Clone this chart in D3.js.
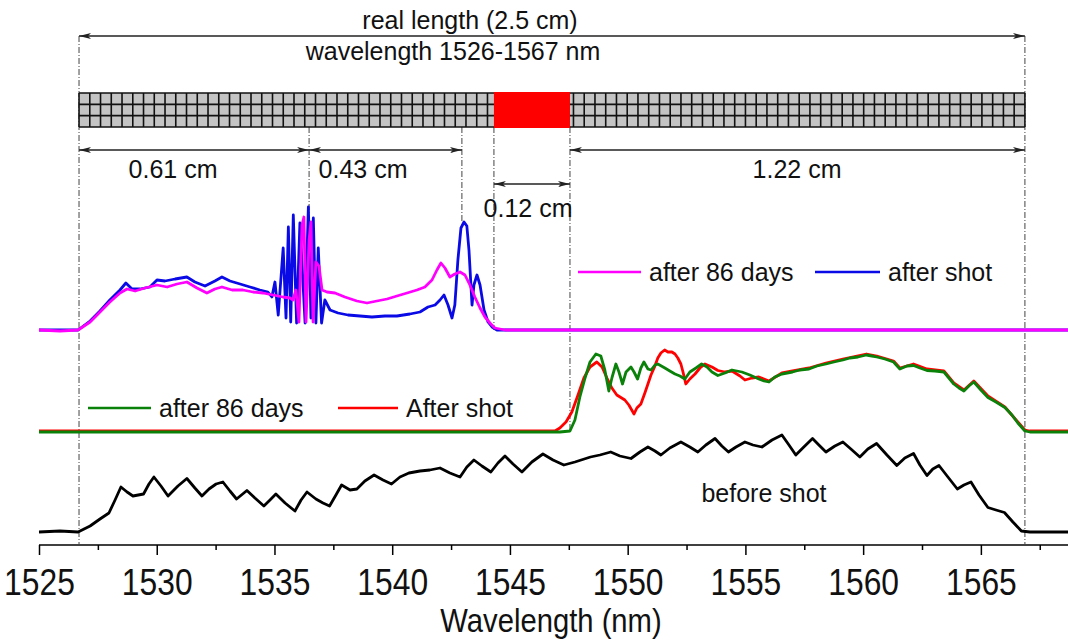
<!DOCTYPE html>
<html><head><meta charset="utf-8">
<script src="https://cdn.jsdelivr.net/npm/d3@7"></script>
<style>
html,body{margin:0;padding:0;background:#fff;}
svg{display:block;}
text{font-family:"Liberation Sans",Arial,sans-serif;fill:#111;}
</style></head>
<body><svg id="chart" width="1068" height="643"></svg>
<script>
// ---------------- DATA ----------------
const xTicksMajor = [1525,1530,1535,1540,1545,1550,1555,1560,1565];
const xTicksMinor = [1527.5,1532.5,1537.5,1542.5,1547.5,1552.5,1557.5,1562.5,1567.5];
const xLabel = "Wavelength (nm)";
// vertical offsets (a.u.) of the stacked spectra
const offsets = {top:43, middle:22.6, bottom:2.6};
// marker wavelengths of the grating sections (nm)
const sectionMarks = [1526.70, 1536.47, 1542.96, 1544.32, 1547.55, 1566.87];
const damagedZone = [1544.32, 1547.55];
const lengthLabels = ["0.61 cm","0.43 cm","0.12 cm","1.22 cm"];

// top pair: after shot (blue) / after 86 days (magenta)
const topAfterShot = [[1525.00,0],[1526.66,0],[1527.17,1.8],[1527.59,3.8],[1528.01,6],[1528.44,8],[1528.69,9.4],[1528.95,8.2],[1529.29,8.2],[1529.71,8.6],[1530.01,10],[1530.35,9.8],[1530.78,10.2],[1531.28,10.6],[1531.62,9.6],[1532.05,8.8],[1532.47,9.8],[1532.77,10.6],[1533.11,9.8],[1533.54,9.2],[1533.96,8.6],[1534.38,8],[1534.72,7.6],[1534.89,6.6],[1535.02,9.6],[1535.16,3],[1535.37,16.4],[1535.49,2.4],[1535.59,20.6],[1535.69,1.6],[1535.80,23],[1535.94,1.4],[1536.08,21.4],[1536.30,1.4],[1536.44,24.6],[1536.55,2.4],[1536.65,22.4],[1536.76,1.4],[1536.86,16.4],[1537.00,1.4],[1537.14,6],[1537.36,4],[1537.70,3.4],[1538.12,3],[1538.63,2.8],[1539.14,2.6],[1539.69,2.8],[1540.20,2.8],[1540.75,3.2],[1541.18,3.6],[1541.52,4.6],[1541.82,5],[1542.03,6],[1542.20,7],[1542.37,5],[1542.54,2.4],[1542.66,5],[1542.79,14],[1542.92,20.4],[1543.05,21.6],[1543.17,20.8],[1543.26,16],[1543.39,5],[1543.47,9],[1543.60,11],[1543.73,9],[1543.90,4],[1544.07,1.6],[1544.24,0.6],[1544.45,0],[1568.70,0]];
const topAfter86 = [[1525.00,0],[1525.89,-0.2],[1526.66,0],[1527.17,1.6],[1527.59,3.6],[1528.01,5.6],[1528.44,7.4],[1528.74,8.2],[1529.08,7.8],[1529.50,8.4],[1530.01,9],[1530.44,8.6],[1530.86,9.2],[1531.28,9.6],[1531.71,8.4],[1532.13,7.4],[1532.47,8.2],[1532.77,8.6],[1533.20,8],[1533.66,8],[1534.09,7.6],[1534.51,7.4],[1534.94,7],[1535.36,6.6],[1535.66,6.4],[1535.79,6],[1535.91,8],[1536.04,1.6],[1536.17,21],[1536.25,22.6],[1536.34,1.6],[1536.47,18],[1536.55,21.6],[1536.64,1.6],[1536.76,13.6],[1536.89,12.8],[1537.02,8],[1537.23,7.6],[1537.57,7.4],[1537.99,6.6],[1538.50,5.8],[1538.93,5.4],[1539.35,5.8],[1539.78,6.2],[1540.20,6.8],[1540.63,7.4],[1541.05,8],[1541.39,8.6],[1541.69,10],[1541.90,12],[1542.07,13.4],[1542.24,12.4],[1542.45,10.6],[1542.66,11.2],[1542.88,11.6],[1543.09,11],[1543.30,9],[1543.51,6.6],[1543.73,4.4],[1543.94,2.6],[1544.15,1.4],[1544.36,0.4],[1544.79,0],[1568.70,0]];

// middle pair: After shot (red) / after 86 days (green)
const midAfterShot = [[1525.00,0.2],[1546.91,0.2],[1547.12,0.8],[1547.38,2],[1547.63,4],[1547.89,7.4],[1548.14,10.8],[1548.40,13],[1548.69,14],[1548.91,13],[1549.12,10.8],[1549.33,8.8],[1549.54,7.4],[1549.71,6.9],[1549.88,6.4],[1550.05,5.4],[1550.27,3.6],[1550.39,4.8],[1550.56,5.6],[1550.73,7.8],[1550.86,9.6],[1550.99,11.4],[1551.14,13],[1551.28,14.8],[1551.41,15.8],[1551.57,16.4],[1551.71,16],[1551.88,16],[1552.01,15.6],[1552.13,14.8],[1552.26,13.6],[1552.35,12],[1552.47,9.6],[1552.64,10.6],[1552.86,11.6],[1553.07,12.8],[1553.28,13.6],[1553.58,13],[1553.83,12.3],[1554.13,12],[1554.43,12.2],[1554.77,11.2],[1554.98,10.4],[1555.28,10.8],[1555.57,11],[1556.00,10.2],[1556.55,11.8],[1557.00,12.2],[1557.70,12.8],[1558.42,13.8],[1559.14,14.6],[1560.14,15.6],[1560.58,15.2],[1561.29,14.2],[1561.56,12.8],[1562.14,13.6],[1562.71,12.6],[1563.43,12.2],[1563.85,9.8],[1564.28,8.4],[1564.70,10.2],[1565.30,7.2],[1566.02,5],[1566.57,2],[1566.87,0.4],[1567.08,0.2],[1568.70,0.2]];
const midAfter86 = [[1525.00,0],[1547.12,0],[1547.55,0.2],[1547.76,2.4],[1547.97,7],[1548.19,10.8],[1548.40,14],[1548.65,15.6],[1548.86,15.2],[1549.03,12.4],[1549.20,8.2],[1549.33,10.8],[1549.50,13.6],[1549.63,12],[1549.78,9.6],[1549.93,12],[1550.14,13],[1550.27,12],[1550.42,10.6],[1550.56,12.8],[1550.69,14],[1550.86,12.6],[1550.99,12.4],[1551.16,13.4],[1551.28,13.6],[1551.58,12.8],[1551.79,12.2],[1552.01,11.6],[1552.22,11.2],[1552.43,10.6],[1552.64,12],[1552.90,12.8],[1553.14,13.6],[1553.37,13],[1553.58,12],[1553.83,11.3],[1554.13,11.8],[1554.43,12.4],[1554.85,12],[1555.19,11.4],[1555.57,10.6],[1555.79,10.2],[1556.00,10],[1556.25,11],[1556.55,11.6],[1557.00,12],[1557.31,12.4],[1557.70,12.6],[1558.04,13.2],[1558.42,13.6],[1558.76,14],[1559.14,14.4],[1559.44,14.8],[1559.78,15],[1560.14,15.4],[1560.37,15.2],[1560.58,15],[1560.92,14.6],[1561.29,14],[1561.56,12.6],[1561.86,13.2],[1562.14,13.3],[1562.41,12.8],[1562.71,12.3],[1563.05,12.2],[1563.43,12],[1563.64,10.8],[1563.85,9.6],[1564.07,8.8],[1564.28,8.2],[1564.49,9.2],[1564.70,10],[1565.00,8.4],[1565.30,6.9],[1565.64,6],[1566.02,4.9],[1566.32,3.4],[1566.57,1.8],[1566.87,0.2],[1567.08,0],[1568.70,0]];

// bottom: before shot (black)
const beforeShot = [[1525.00,0],[1525.89,0.2],[1526.66,0],[1527.17,1.2],[1527.59,2.6],[1527.97,3.8],[1528.23,6.4],[1528.48,9],[1528.74,8],[1528.99,7.2],[1529.44,7.6],[1529.67,9.6],[1529.88,11],[1530.18,9.2],[1530.48,7.2],[1530.90,9.2],[1531.28,10.7],[1531.62,8.8],[1531.92,7.2],[1532.22,8.6],[1532.52,9.6],[1532.81,10],[1533.11,8.2],[1533.39,6.6],[1533.83,8.3],[1534.17,6.8],[1534.55,5.2],[1534.81,6.4],[1535.06,7.6],[1535.45,5.8],[1535.87,4.2],[1536.13,6.4],[1536.38,8],[1536.76,6.6],[1537.06,5.8],[1537.34,5.2],[1537.61,7.4],[1537.85,9.4],[1538.21,8.4],[1538.50,8.6],[1538.84,10.2],[1539.23,11.4],[1539.61,10.4],[1539.97,9.6],[1540.33,11],[1540.71,11.8],[1541.18,12.2],[1541.60,12.4],[1542.03,12.8],[1542.45,11.8],[1542.88,11],[1543.17,13],[1543.47,14.4],[1543.81,13.2],[1544.19,12],[1544.49,13.8],[1544.79,15.2],[1545.13,13.6],[1545.51,12],[1545.93,14],[1546.40,15.6],[1546.83,14.4],[1547.29,13.4],[1547.76,14],[1548.42,15],[1548.82,15.4],[1549.28,16],[1549.67,15.2],[1550.14,14.7],[1550.52,16],[1550.86,17],[1551.16,16.2],[1551.41,15.4],[1551.79,16.8],[1552.26,18],[1552.64,17],[1552.98,16],[1553.32,17.4],[1553.71,18.7],[1554.00,17.2],[1554.28,16],[1554.60,17],[1554.98,18],[1555.32,17.4],[1555.70,17],[1556.13,18.4],[1556.55,19.4],[1556.85,17.4],[1557.14,15.4],[1557.48,17],[1557.85,18.7],[1558.12,17.4],[1558.42,16],[1558.80,17.2],[1559.14,18],[1559.48,16.6],[1559.86,15],[1560.20,16.6],[1560.57,17.7],[1561.01,15.4],[1561.43,13.3],[1561.77,14.8],[1562.14,15.7],[1562.41,13.4],[1562.71,11.3],[1562.96,12.6],[1563.22,13.3],[1563.60,11],[1564.00,8.6],[1564.28,9.4],[1564.58,10],[1564.92,7.4],[1565.30,4.9],[1565.64,4.4],[1566.00,3.9],[1566.36,2],[1566.72,0.2],[1567.08,0],[1568.70,0]];

const seriesNames = ["after 86 days","after shot","after 86 days","After shot","before shot"];
const seriesColors = {magenta:"#ff00ff", blue:"#0a0ae6", green:"#0a820a", red:"#ff0000", black:"#000000"};

// ---------------- CHART ----------------
const svg = d3.select("#chart");
const x = d3.scaleLinear().domain([1525, 1568.7]).range([39, 1068]);
const y = d3.scaleLinear().domain([0, 100]).range([545, 45]);

// defs: arrow markers
const defs = svg.append("defs");
function mk(id, dir){
  const m = defs.append("marker").attr("id",id).attr("viewBox","0 0 12 8")
    .attr("markerWidth",12).attr("markerHeight",8).attr("markerUnits","userSpaceOnUse")
    .attr("refX", dir>0?12:0).attr("refY",4).attr("orient","auto");
  if(dir>0) m.append("path").attr("d","M0,1 L12,4 L0,7 L3,4 Z").attr("fill","#222");
  else m.append("path").attr("d","M12,1 L0,4 L12,7 L9,4 Z").attr("fill","#222");
}
mk("arrEnd",1); mk("arrStart",-1);

// axis
const axisG = svg.append("g").attr("transform",`translate(0,${y(0)})`);
axisG.call(d3.axisBottom(x).tickValues(xTicksMajor).tickSize(10).tickPadding(14).tickFormat(d3.format("d")))
  .call(g=>g.select(".domain").attr("stroke","#000").attr("stroke-width",1.5).attr("d",`M${x.range()[0]},0H${x.range()[1]}`))
  .call(g=>g.selectAll(".tick line").attr("stroke","#000").attr("stroke-width",1.5))
  .call(g=>g.selectAll(".tick text").attr("font-size",37).attr("fill","#111").attr("transform","scale(0.86,1)"));
axisG.append("g").call(d3.axisBottom(x).tickValues(xTicksMinor).tickSize(5).tickFormat(""))
  .call(g=>g.select(".domain").remove())
  .call(g=>g.selectAll(".tick line").attr("stroke","#000").attr("stroke-width",1.5));
svg.append("g").attr("transform","translate(551,632) scale(0.86,1)")
  .append("text").attr("x",0).attr("y",0).attr("text-anchor","middle")
  .attr("font-size",34).text(xLabel);

// dashed marker lines
const dashTop = [36, 127, 127, 127, 127, 36];
const dashBottom = [545, 213, 222, 330, 432, 545];
sectionMarks.forEach((w,i)=>{
  svg.append("line").attr("x1",x(w)).attr("x2",x(w)).attr("y1",dashTop[i]).attr("y2",dashBottom[i])
    .attr("stroke","#444").attr("stroke-width",1).attr("stroke-dasharray","6,2,1,2");
});

// grating bar
const barY=93, barH=34;
const bx0 = x(sectionMarks[0]), bx1 = x(sectionMarks[5]);
svg.append("rect").attr("x",bx0).attr("y",barY).attr("width",bx1-bx0).attr("height",barH).attr("fill","#c4c4c4");
const nCells = 88, cw = (bx1-bx0)/nCells;
const gridG = svg.append("g").attr("stroke","#111").attr("stroke-width",1.6);
d3.range(nCells+1).forEach(i=>{
  gridG.append("line").attr("x1",bx0+i*cw).attr("x2",bx0+i*cw).attr("y1",barY).attr("y2",barY+barH);
});
[0,1,2,3].forEach(j=>{
  gridG.append("line").attr("x1",bx0).attr("x2",bx1).attr("y1",barY+j*barH/3).attr("y2",barY+j*barH/3);
});
svg.append("rect").attr("x",x(damagedZone[0])).attr("y",barY-1).attr("width",x(damagedZone[1])-x(damagedZone[0]))
  .attr("height",barH+2).attr("fill","#ff0000");

// arrows
function arrow(x1,x2,yy){
  svg.append("line").attr("x1",x1).attr("x2",x2).attr("y1",yy).attr("y2",yy)
    .attr("stroke","#222").attr("stroke-width",1.3)
    .attr("marker-start","url(#arrStart)").attr("marker-end","url(#arrEnd)");
}
arrow(x(sectionMarks[0]), x(sectionMarks[5]), 36);
arrow(x(sectionMarks[0]), x(sectionMarks[1]), 150);
arrow(x(sectionMarks[1]), x(sectionMarks[2]), 150);
arrow(x(sectionMarks[4]), x(sectionMarks[5]), 150);
arrow(x(sectionMarks[3]), x(sectionMarks[4]), 184);

svg.append("text").attr("x",470).attr("y",29).attr("text-anchor","middle").attr("font-size",25).text("real length (2.5 cm)");
svg.append("text").attr("x",453).attr("y",60).attr("text-anchor","middle").attr("font-size",25).text("wavelength 1526-1567 nm");
svg.append("text").attr("x",173).attr("y",178).attr("text-anchor","middle").attr("font-size",25).text(lengthLabels[0]);
svg.append("text").attr("x",363).attr("y",178).attr("text-anchor","middle").attr("font-size",25).text(lengthLabels[1]);
svg.append("text").attr("x",528).attr("y",217).attr("text-anchor","middle").attr("font-size",25).text(lengthLabels[2]);
svg.append("text").attr("x",797).attr("y",178).attr("text-anchor","middle").attr("font-size",25).text(lengthLabels[3]);

// spectra
const line = off => d3.line().x(d=>x(d[0])).y(d=>y(d[1]+off));
function draw(data, off, col){
  svg.append("path").datum(data).attr("d",line(off)).attr("fill","none")
    .attr("stroke",col).attr("stroke-width",2.8).attr("stroke-linejoin","round");
}
draw(beforeShot, offsets.bottom, seriesColors.black);
draw(midAfterShot, offsets.middle, seriesColors.red);
draw(midAfter86, offsets.middle, seriesColors.green);
draw(topAfterShot, offsets.top, seriesColors.blue);
draw(topAfter86, offsets.top, seriesColors.magenta);

// legends
function legendItem(x1,x2,yy,col,label){
  svg.append("line").attr("x1",x1).attr("x2",x2).attr("y1",yy).attr("y2",yy).attr("stroke",col).attr("stroke-width",2.6);
  svg.append("text").attr("x",x2+8).attr("y",yy+9).attr("font-size",25).text(label);
}
legendItem(578,641,272,seriesColors.magenta,seriesNames[0]);
legendItem(815,880,272,seriesColors.blue,seriesNames[1]);
legendItem(88,151,408,seriesColors.green,seriesNames[2]);
legendItem(338,398,408,seriesColors.red,seriesNames[3]);
svg.append("text").attr("x",764).attr("y",502).attr("text-anchor","middle").attr("font-size",25).text(seriesNames[4]);
</script></body></html>
